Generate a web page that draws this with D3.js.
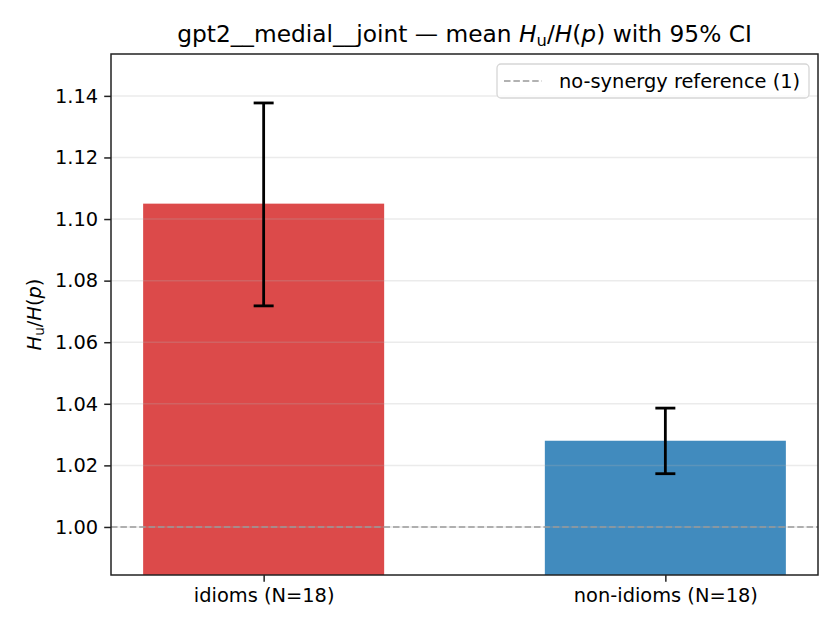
<!DOCTYPE html>
<html>
<head>
<meta charset="utf-8">
<script src="https://cdn.jsdelivr.net/npm/d3@7"></script>
<style>
  body { margin: 0; background: #fff; }
  text { font-family: "DejaVu Sans", sans-serif; fill: #000; }
</style>
</head>
<body>
<div id="chart"></div>
<script>
// values
const categories = [`idioms (N=18)`, `non-idioms (N=18)`];
const means = [1.105, 1.028];
const ciLow = [1.0718, 1.0173];
const ciHigh = [1.1377, 1.0386];
const barColors = [`#dc4a4a`, `#418bbe`];
const yTicks = [1.0, 1.02, 1.04, 1.06, 1.08, 1.1, 1.12, 1.14];
const referenceValue = 1;

const width = 840;
const height = 630;
const margin = { top: 54, right: 22, bottom: 55, left: 111 };
const innerW = width - margin.left - margin.right;
const innerH = height - margin.top - margin.bottom;
const tickFont = `19.4px`;

const svg = d3
  .select(`#chart`)
  .append(`svg`)
  .attr(`width`, width)
  .attr(`height`, height);

const g = svg
  .append(`g`)
  .attr(`transform`, `translate(${margin.left}, ${margin.top})`);

// bars sit at 0 and 1 with width 0.6, like matplotlib's default limits
const x = d3.scaleLinear().domain([-0.38, 1.38]).range([0, innerW]);
const y = d3.scaleLinear().domain([0.9844, 1.1536]).range([innerH, 0]);
const barW = x(0.6) - x(0);

// bars
g.selectAll(`rect.bar`)
  .data(means)
  .enter()
  .append(`rect`)
  .attr(`class`, `bar`)
  .attr(`x`, (d, i) => x(i) - barW / 2)
  .attr(`width`, barW)
  .attr(`y`, (d) => y(d))
  .attr(`height`, (d) => innerH - y(d))
  .attr(`fill`, (d, i) => barColors[i]);

// grid on top of the bars, faint
g.append(`g`)
  .selectAll(`line`)
  .data(yTicks)
  .enter()
  .append(`line`)
  .attr(`x1`, 0)
  .attr(`x2`, innerW)
  .attr(`y1`, (d) => y(d))
  .attr(`y2`, (d) => y(d))
  .attr(`stroke`, `#b0b0b0`)
  .attr(`stroke-opacity`, 0.25)
  .attr(`stroke-width`, 1.5);

// reference line
g.append(`line`)
  .attr(`x1`, 0)
  .attr(`x2`, innerW)
  .attr(`y1`, y(referenceValue))
  .attr(`y2`, y(referenceValue))
  .attr(`stroke`, `#999`)
  .attr(`stroke-width`, 1.6)
  .attr(`stroke-dasharray`, `6.5,2.9`);

// error bars
const capHalf = 10;
const errs = g
  .selectAll(`g.err`)
  .data(means)
  .enter()
  .append(`g`)
  .attr(`class`, `err`)
  .attr(`stroke`, `#000`)
  .attr(`stroke-width`, 2.8);
errs
  .append(`line`)
  .attr(`x1`, (d, i) => x(i))
  .attr(`x2`, (d, i) => x(i))
  .attr(`y1`, (d, i) => y(ciLow[i]))
  .attr(`y2`, (d, i) => y(ciHigh[i]));
errs
  .append(`line`)
  .attr(`x1`, (d, i) => x(i) - capHalf)
  .attr(`x2`, (d, i) => x(i) + capHalf)
  .attr(`y1`, (d, i) => y(ciLow[i]))
  .attr(`y2`, (d, i) => y(ciLow[i]));
errs
  .append(`line`)
  .attr(`x1`, (d, i) => x(i) - capHalf)
  .attr(`x2`, (d, i) => x(i) + capHalf)
  .attr(`y1`, (d, i) => y(ciHigh[i]))
  .attr(`y2`, (d, i) => y(ciHigh[i]));

// axes
const yAxis = d3
  .axisLeft(y)
  .tickValues(yTicks)
  .tickFormat(d3.format(`.2f`))
  .tickSize(6.8)
  .tickPadding(6);
const xAxis = d3
  .axisBottom(x)
  .tickValues([0, 1])
  .tickFormat((d) => categories[d])
  .tickSize(6.8)
  .tickPadding(6);

const yG = g.append(`g`).call(yAxis);
const xG = g.append(`g`).attr(`transform`, `translate(0, ${innerH})`).call(xAxis);
[yG, xG].forEach((ax) => {
  ax.select(`.domain`).remove();
  ax.selectAll(`.tick line`).attr(`stroke`, `#222`).attr(`stroke-width`, 1.5);
  ax.selectAll(`.tick text`)
    .style(`font-family`, `"DejaVu Sans", sans-serif`)
    .style(`font-size`, tickFont)
    .attr(`fill`, `#000`);
});

// frame
g.append(`rect`)
  .attr(`width`, innerW)
  .attr(`height`, innerH)
  .attr(`fill`, `none`)
  .attr(`stroke`, `#222`)
  .attr(`stroke-width`, 1.5);

// legend
const leg = g.append(`g`).attr(`transform`, `translate(${innerW - 321}, 10)`);
leg.append(`rect`)
  .attr(`width`, 312)
  .attr(`height`, 34)
  .attr(`rx`, 4)
  .attr(`fill`, `#fff`)
  .attr(`fill-opacity`, 0.8)
  .attr(`stroke`, `#d6d6d6`)
  .attr(`stroke-width`, 1.3);
leg.append(`line`)
  .attr(`x1`, 7)
  .attr(`x2`, 45)
  .attr(`y1`, 17)
  .attr(`y2`, 17)
  .attr(`stroke`, `#999`)
  .attr(`stroke-width`, 1.6)
  .attr(`stroke-dasharray`, `6.5,2.9`);
leg.append(`text`)
  .attr(`x`, 62)
  .attr(`y`, 24)
  .style(`font-size`, tickFont)
  .text(`no-synergy reference (1)`);

// title with math-ish parts
const title = svg
  .append(`text`)
  .attr(`x`, margin.left + innerW / 2)
  .attr(`y`, 42)
  .attr(`text-anchor`, `middle`)
  .style(`font-size`, `23.3px`);
title.append(`tspan`).text(`gpt2__medial__joint — mean `);
title.append(`tspan`).style(`font-style`, `italic`).text(`H`);
title.append(`tspan`).attr(`dy`, 3.8).style(`font-size`, `16.3px`).text(`u`);
title.append(`tspan`).attr(`dy`, -3.8).text(`/`);
title.append(`tspan`).style(`font-style`, `italic`).text(`H`);
title.append(`tspan`).text(`(`);
title.append(`tspan`).style(`font-style`, `italic`).text(`p`);
title.append(`tspan`).text(`) with 95% CI`);

// y label
const yl = svg
  .append(`text`)
  .attr(`transform`, `translate(41, ${margin.top + innerH / 2}) rotate(-90)`)
  .attr(`text-anchor`, `middle`)
  .style(`font-size`, tickFont);
yl.append(`tspan`).style(`font-style`, `italic`).text(`H`);
yl.append(`tspan`).attr(`dy`, 3.2).style(`font-size`, `13.6px`).text(`u`);
yl.append(`tspan`).attr(`dy`, -3.2).text(`/`);
yl.append(`tspan`).style(`font-style`, `italic`).text(`H`);
yl.append(`tspan`).text(`(`);
yl.append(`tspan`).style(`font-style`, `italic`).text(`p`);
yl.append(`tspan`).text(`)`);
</script>
</body>
</html>
